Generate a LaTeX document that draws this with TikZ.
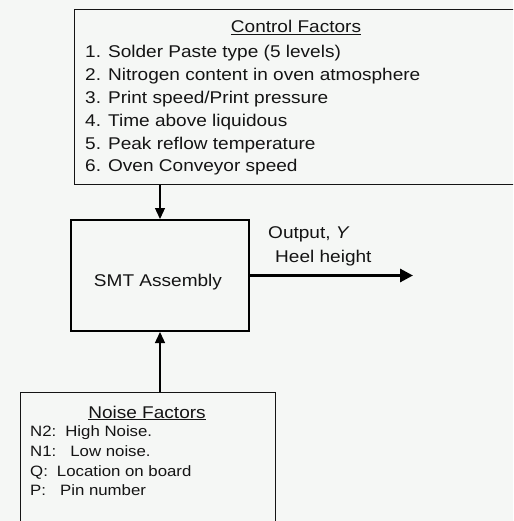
\documentclass[tikz,border=0pt]{standalone}
\usepackage{fontspec}
\setmainfont[FakeStretch=1.12]{Liberation Sans}
\usetikzlibrary{arrows.meta,calc}
\definecolor{PaperClr}{rgb}{0.96,0.97,0.96}
\definecolor{InkClr}{rgb}{0.08,0.08,0.08}

\begin{document}
\begin{tikzpicture}[x=1pt,y=-1pt,
  thinbox/.style={draw=InkClr,line width=1pt,inner sep=0pt},
  mainbox/.style={draw=black,line width=2pt,inner sep=0pt},
  feed/.style={draw=black,line width=1.3pt,-{Triangle[length=11pt,width=10pt]}},
  outflow/.style={draw=black,line width=3pt,-{Triangle[length=13pt,width=13pt]}},
  big/.style={font=\fontsize{17}{20}\selectfont,text=InkClr,inner sep=0pt},
  small/.style={font=\fontsize{15}{18}\selectfont,text=InkClr,inner sep=0pt}]
\useasboundingbox (0,0) rectangle (513,521);
\clip (0,0) rectangle (513,521);
\fill[PaperClr] (0,0) rectangle (513,521);

% boxes
\node[thinbox,minimum width=460pt,minimum height=175pt] (ctrl) at (304,97.5) {};
\node[mainbox,minimum width=178pt,minimum height=111pt] (smt) at (160,275.5) {};
\node[thinbox,minimum width=255pt,minimum height=160pt] (noise) at (147.5,472) {};

% control factors
\node[big,anchor=base] (ctrltitle) at (296,33) {\underline{Control Factors}};
\node[big,anchor=base west] (c1) at (85,58) {1. Solder Paste type (5 levels)};
\node[big,anchor=base west] (c2) at (85,80.8) {2. Nitrogen content in oven atmosphere};
\node[big,anchor=base west] (c3) at (85,103.6) {3. Print speed/Print pressure};
\node[big,anchor=base west] (c4) at (85,126.4) {4. Time above liquidous};
\node[big,anchor=base west] (c5) at (85,149.2) {5. Peak reflow temperature};
\node[big,anchor=base west] (c6) at (85,172) {6. Oven Conveyor speed};

% process and output
\node[big,anchor=base] (smtlabel) at (158,286) {SMT Assembly};
\node[big,anchor=base west] (outa) at (268,238) {Output, \textit{Y}};
\node[big,anchor=base west] (outb) at (275,262) {Heel height};

% noise factors
\node[big,anchor=base] (noisetitle) at (147,418) {\underline{Noise Factors}};
\node[small,anchor=base west] (n2) at (30,436) {N2:\hspace{9pt}High Noise.};
\node[small,anchor=base west] (n1) at (30,456) {N1:\hspace{14pt}Low noise.};
\node[small,anchor=base west] (nq) at (30,476) {Q:\hspace{9pt}Location on board};
\node[small,anchor=base west] (np) at (30,495) {P:\hspace{14pt}Pin number};

% connectors
\coordinate (yout) at (413,274);
\draw[feed] (ctrl.south -| smt.north) -- (smt.north);
\draw[feed] (noise.north -| smt.south) -- (smt.south);
\draw[outflow] (smt.east) -- (smt.east -| yout);
\end{tikzpicture}
\end{document}
